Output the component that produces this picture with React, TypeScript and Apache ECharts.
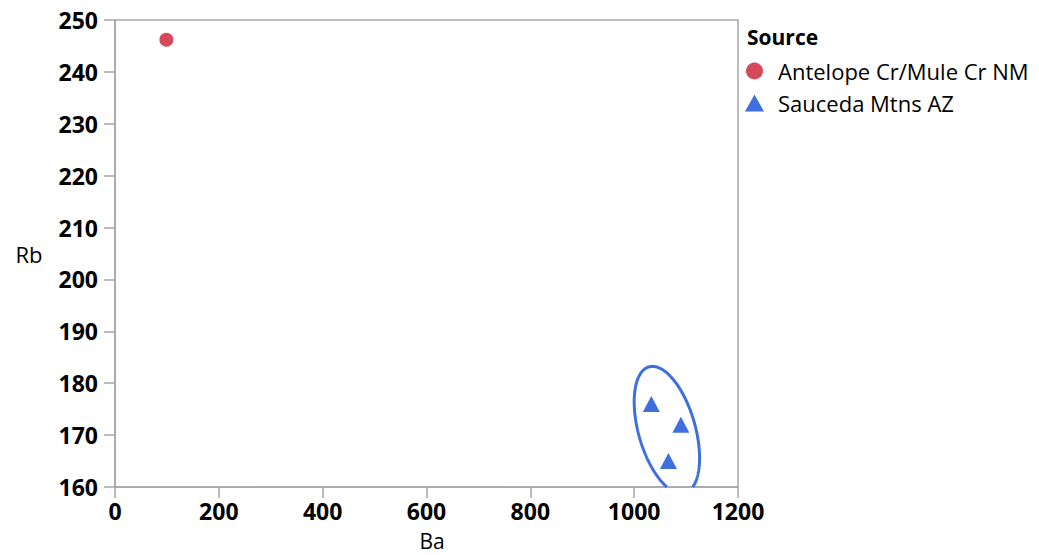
import React, { useEffect, useRef } from "react";
import * as echarts from "echarts";

const sourceNames = ["Antelope Cr/Mule Cr NM", "Sauceda Mtns AZ"];
const antelopeBa = [99];
const antelopeRb = [246.2];
const saucedaBa = [1033, 1090, 1066];
const saucedaRb = [176, 172, 165];
const xTicks = { min: 0, max: 1200, interval: 200 };
const yTicks = { min: 160, max: 250, interval: 10 };
const ellipseK = 2.2;

const RED = "#D5495A";
const BLUE = "#3E6FDF";
const GRAY = "#A6A6A6";
const FONT = "Open Sans";

function ellipsePoints(xs: number[], ys: number[], k: number, yMin: number): number[][] {
  const n = xs.length;
  const mx = xs.reduce((a, b) => a + b, 0) / n;
  const my = ys.reduce((a, b) => a + b, 0) / n;
  let sxx = 0, syy = 0, sxy = 0;
  for (let i = 0; i < n; i++) {
    sxx += (xs[i] - mx) ** 2;
    syy += (ys[i] - my) ** 2;
    sxy += (xs[i] - mx) * (ys[i] - my);
  }
  sxx /= n - 1; syy /= n - 1; sxy /= n - 1;
  const l11 = Math.sqrt(sxx);
  const l21 = sxy / l11;
  const l22 = Math.sqrt(Math.max(syy - l21 * l21, 0));
  const N = 360;
  const pts: number[][] = [];
  for (let i = 0; i < N; i++) {
    const t = (i / N) * Math.PI * 2;
    const c = Math.cos(t), s = Math.sin(t);
    pts.push([mx + k * l11 * c, my + k * (l21 * c + l22 * s)]);
  }
  let entry = -1;
  for (let i = 0; i < N; i++) {
    const a = pts[i], b = pts[(i + 1) % N];
    if (a[1] < yMin && b[1] >= yMin) { entry = i; break; }
  }
  if (entry < 0) return [...pts, pts[0]];
  const out: number[][] = [];
  const lerp = (a: number[], b: number[]) => {
    const f = (yMin - a[1]) / (b[1] - a[1]);
    return [a[0] + f * (b[0] - a[0]), yMin];
  };
  out.push(lerp(pts[entry], pts[(entry + 1) % N]));
  for (let j = 1; j <= N; j++) {
    const a = pts[(entry + j) % N];
    const b = pts[(entry + j + 1) % N];
    out.push(a);
    if (b[1] < yMin) { out.push(lerp(a, b)); break; }
  }
  return out;
}

export default function App() {
  const ref = useRef<HTMLDivElement>(null);
  useEffect(() => {
    if (!ref.current) return;
    const chart = echarts.init(ref.current, null, { renderer: "svg" });
    const gridLeft = 115, gridTop = 20, gridW = 623, gridH = 467;
    chart.setOption({
      animation: false,
      textStyle: { fontFamily: FONT },
      grid: {
        left: gridLeft, top: gridTop, width: gridW, height: gridH,
        show: true, borderColor: GRAY, borderWidth: 1.5, backgroundColor: "transparent",
      },
      xAxis: {
        type: "value", min: xTicks.min, max: xTicks.max, interval: xTicks.interval,
        splitLine: { show: false },
        axisLine: { show: true, lineStyle: { color: GRAY, width: 1.5 } },
        axisTick: { show: true, inside: false, length: 11, lineStyle: { color: GRAY, width: 1.5 } },
        axisLabel: {
          color: "#000", fontWeight: "bold", fontSize: 23, fontFamily: FONT, margin: 12,
          formatter: (v: number) => String(v),
        },
      },
      yAxis: {
        type: "value", min: yTicks.min, max: yTicks.max, interval: yTicks.interval,
        splitLine: { show: false },
        axisLine: { show: true, lineStyle: { color: GRAY, width: 1.5 } },
        axisTick: { show: true, inside: false, length: 11, lineStyle: { color: GRAY, width: 1.5 } },
        axisLabel: {
          color: "#000", fontWeight: "bold", fontSize: 23, fontFamily: FONT, margin: 17,
          formatter: (v: number) => String(v),
        },
      },
      legend: {
        orient: "vertical", left: 745, top: 60, padding: 0, itemGap: 10,
        itemWidth: 19, itemHeight: 17, selectedMode: false,
        textStyle: { fontSize: 22, color: "#000", fontFamily: FONT, padding: [0, 0, 0, 9] },
        data: [
          { name: sourceNames[0], icon: "circle", itemStyle: { color: RED } },
          { name: sourceNames[1], icon: "triangle", itemStyle: { color: BLUE } },
        ],
      },
      graphic: [
        { type: "text", left: 747, top: 26, style: { text: "Source", font: `bold 21px ${FONT}`, fill: "#000" } },
        { type: "text", x: 29, y: 254, style: { text: "Rb", font: `22px ${FONT}`, fill: "#000", align: "center", verticalAlign: "middle" } },
        { type: "text", x: 432, y: 541, style: { text: "Ba", font: `21px ${FONT}`, fill: "#000", align: "center", verticalAlign: "middle" } },
      ],
      series: [
        {
          name: sourceNames[0], type: "scatter", symbol: "circle", symbolSize: 14,
          itemStyle: { color: RED, opacity: 1 },
          data: antelopeBa.map((x, i) => [x, antelopeRb[i]]),
        },
        {
          name: sourceNames[1], type: "scatter", symbol: "triangle", symbolSize: [17, 16],
          itemStyle: { color: BLUE, opacity: 1 },
          data: saucedaBa.map((x, i) => [x, saucedaRb[i]]),
        },
        {
          name: "ellipse", type: "line", showSymbol: false, symbol: "none", smooth: false,
          silent: true, clip: true, lineStyle: { color: BLUE, width: 3 },
          data: ellipsePoints(saucedaBa, saucedaRb, ellipseK, yTicks.min),
        },
      ],
    });
    return () => chart.dispose();
  }, []);
  return (
    <div
      ref={ref}
      style={{ position: "fixed", left: 0, top: 0, width: 1039, height: 555, background: "#fff" }}
    />
  );
}
